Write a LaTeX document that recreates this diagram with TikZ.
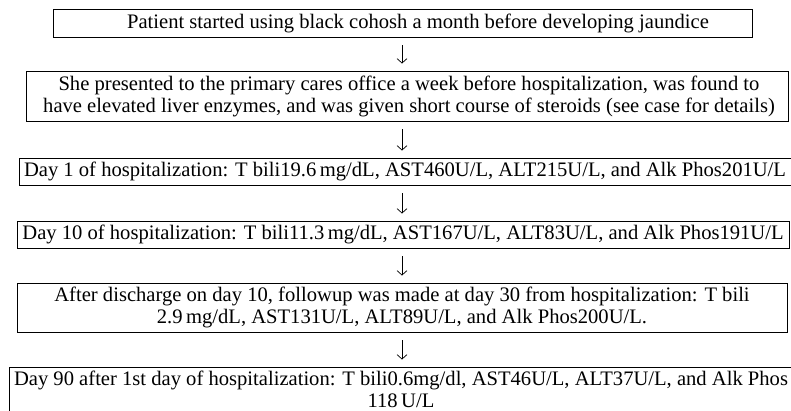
\documentclass[tikz,border=0pt]{standalone}
\usepackage{fontspec}
\setmainfont{Liberation Serif}
\usetikzlibrary{arrows.meta}
\tikzset{
  box/.style={draw=black, line width=0.9pt, rectangle, inner sep=0pt},
  txt/.style={inner sep=0pt, align=center, font=\fontsize{20.6}{22}\selectfont},
  arr/.style={line width=0.7pt, -{Straight Barb[length=4.5pt,width=10pt]}, shorten <=8pt, shorten >=7pt}
}
\begin{document}
\begin{tikzpicture}[x=1pt,y=-1pt]
\useasboundingbox (0,0) rectangle (791,411);
\clip (0,0) rectangle (791,411);
\coordinate (col) at (402,0);
% boxes
\node[box, minimum width=699pt, minimum height=28pt] (b1) at (402.5,23) {};
\node[box, minimum width=762pt, minimum height=50pt] (b2) at (407,96) {};
\node[box, minimum width=790pt, minimum height=27pt] (b3) at (414,171.5) {};
\node[box, minimum width=772pt, minimum height=27pt] (b4) at (403,234.5) {};
\node[box, minimum width=770pt, minimum height=49pt] (b5) at (402,307.5) {};
\node[box, minimum width=800pt, minimum height=60pt] (b6) at (409,397) {};
% texts
\node[txt] (t1) at (418,23) {Patient started using black cohosh a month before developing jaundice};
\node[txt] (t2) at (409,96) {She presented to the primary cares office a week before hospitalization, was found to\\have elevated liver enzymes, and was given short course of steroids (see case for details)};
\node[txt] (t3) at (405,171.5) {Day 1 of hospitalization: T bili19.6\,mg/dL, AST460U/L, ALT215U/L, and Alk Phos201U/L};
\node[txt] (t4) at (403,234.5) {Day 10 of hospitalization: T bili11.3\,mg/dL, AST167U/L, ALT83U/L, and Alk Phos191U/L};
\node[txt] (t5) at (402,307.5) {After discharge on day 10, followup was made at day 30 from hospitalization: T bili\\2.9\,mg/dL, AST131U/L, ALT89U/L, and Alk Phos200U/L.};
\node[txt, anchor=north] (t6) at (401,371) {Day 90 after 1st day of hospitalization: T bili0.6mg/dl, AST46U/L, ALT37U/L, and Alk Phos\\118\,U/L};
% arrows
\draw[arr] (b1.south -| col) -- (b2.north -| col);
\draw[arr] (b2.south -| col) -- (b3.north -| col);
\draw[arr] (b3.south -| col) -- (b4.north -| col);
\draw[arr] (b4.south -| col) -- (b5.north -| col);
\draw[arr] (b5.south -| col) -- (b6.north -| col);
\end{tikzpicture}
\end{document}
